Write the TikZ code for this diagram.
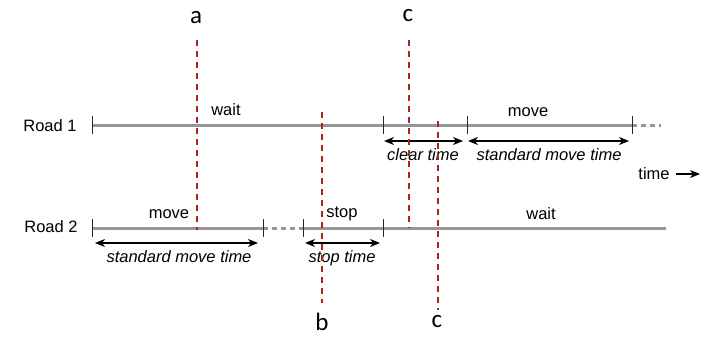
\documentclass[tikz,border=0pt]{standalone}
\usepackage{fontspec}
\setmainfont{Liberation Sans}
\newfontfamily\letterfont{Carlito}
\usetikzlibrary{arrows.meta}
\definecolor{roadgray}{RGB}{150,150,150}
\definecolor{cutred}{RGB}{172,36,30}
\definecolor{tickcol}{RGB}{40,40,40}
\begin{document}
\begin{tikzpicture}[x=1pt,y=-1pt,
  road/.style={draw=roadgray, line width=3pt},
  roadgap/.style={draw=roadgray, line width=3pt, dash pattern=on 5pt off 4pt},
  tickmark/.style={draw=tickcol, line width=1pt},
  cut/.style={draw=cutred, line width=1.5pt, dash pattern=on 6pt off 5pt},
  span/.style={{Stealth[length=10pt,width=8pt,inset=3pt]}-{Stealth[length=10pt,width=8pt,inset=3pt]}, line width=1.3pt},
  onearrow/.style={-{Stealth[length=10pt,width=8pt,inset=3pt]}, line width=1.3pt},
  lbl/.style={font=\fontsize{16.5}{19}\selectfont, inner sep=0pt},
  spanlbl/.style={font=\fontsize{16.5}{19}\selectfont\itshape, inner sep=0pt},
  cutlbl/.style={font=\fontsize{25}{30}\letterfont, inner sep=0pt}]
\useasboundingbox[fill=white] (0,0) rectangle (706,337);

% Road 1
\node[lbl] (road1) at (50,126) {Road 1};
\coordinate (r1s) at (92,125);
\coordinate (r1a) at (383,125);
\coordinate (r1b) at (467,125);
\coordinate (r1e) at (632,125);
\coordinate (r1x) at (661,125);
\draw[road] (r1s) -- (r1e);
\draw[roadgap] (r1e) -- (r1x);
\foreach \p in {r1s,r1a,r1b,r1e}
  \draw[tickmark] ([yshift=9pt]\p) -- ([yshift=-9pt]\p);
\node[lbl] (wait1) at (226,110) {wait};
\node[lbl] (move1) at (528,112) {move};

% Road 1 spans
\coordinate (ct1a) at (384,141);
\coordinate (ct1b) at (463,141);
\coordinate (sm1a) at (468,141);
\coordinate (sm1b) at (629,141);
\draw[span] (ct1a) -- (ct1b);
\draw[span] (sm1a) -- (sm1b);
\node[spanlbl] (clear) at (423,155) {clear time};
\node[spanlbl] (std1) at (549,155) {standard move time};

% time arrow
\node[lbl] (time) at (654,174) {time};
\coordinate (timeend) at (700,174);
\draw[onearrow] ([xshift=6pt]time.east) -- (timeend);

% Road 2
\node[lbl] (road2) at (51,227) {Road 2};
\coordinate (r2s) at (92,228);
\coordinate (r2a) at (263,228);
\coordinate (r2b) at (303,228);
\coordinate (r2c) at (383,228);
\coordinate (r2e) at (666,228);
\draw[road] (r2s) -- (r2a);
\draw[roadgap] (r2a) -- (r2b);
\draw[road] (r2b) -- (r2e);
\foreach \p in {r2s,r2a,r2b,r2c}
  \draw[tickmark] ([yshift=9pt]\p) -- ([yshift=-9pt]\p);
\node[lbl] (move2) at (169,214) {move};
\node[lbl] (stop2) at (342,214) {stop};
\node[lbl] (wait2) at (541,214) {wait};

% Road 2 spans
\coordinate (sm2a) at (95,243);
\coordinate (sm2b) at (258,243);
\coordinate (st2a) at (305,243);
\coordinate (st2b) at (380,243);
\draw[span] (sm2a) -- (sm2b);
\draw[span] (st2a) -- (st2b);
\node[spanlbl] (std2) at (179,257) {standard move time};
\node[spanlbl] (stoptime) at (342,258) {stop time};

% cut lines
\node[cutlbl] (la) at (196,18) {a};
\coordinate (a1) at (197,40);
\coordinate (a2) at (197,230);
\draw[cut] (a1) -- (a2);

\node[cutlbl] (lc1) at (408,16) {c};
\coordinate (c1a) at (409,40);
\coordinate (c1b) at (409,228);
\draw[cut] (c1a) -- (c1b);

\node[cutlbl] (lb) at (322,322) {b};
\coordinate (b1) at (322,112);
\coordinate (b2) at (322,303);
\draw[cut] (b1) -- (b2);

\node[cutlbl] (lc2) at (437,322) {c};
\coordinate (c2a) at (438,121);
\coordinate (c2b) at (438,310);
\draw[cut] (c2a) -- (c2b);
\end{tikzpicture}
\end{document}
